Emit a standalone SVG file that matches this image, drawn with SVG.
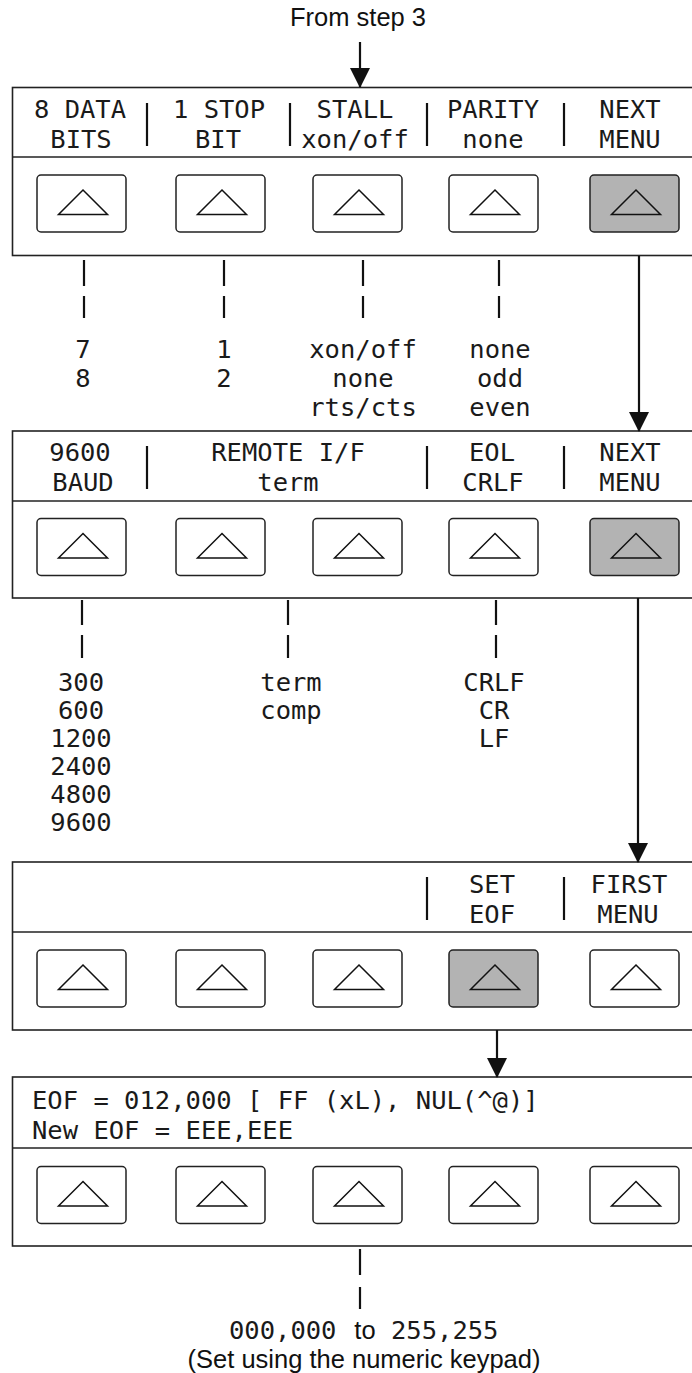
<svg xmlns="http://www.w3.org/2000/svg" width="692" height="1373" viewBox="0 0 692 1373">
<style>
.bg{fill:#ffffff}
.panel{fill:#ffffff;stroke:#222;stroke-width:1.6}
.sep{stroke:#222;stroke-width:1.6}
.btn{fill:#ffffff;stroke:#222;stroke-width:1.5}
.btn.on{fill:#b3b3b3}
.tri{fill:none;stroke:#111;stroke-width:1.5;stroke-linejoin:miter}
.lcd{font-family:"DejaVu Sans Mono","Liberation Mono",monospace;font-size:25.5px;fill:#1a1a1a;text-anchor:middle}
.lcdl{font-family:"DejaVu Sans Mono","Liberation Mono",monospace;font-size:25.5px;fill:#1a1a1a}
.sans{font-family:"Liberation Sans",Arial,sans-serif;font-size:25.5px;fill:#111;text-anchor:middle}
.bar{stroke:#111;stroke-width:2.2}
.tick{stroke:#111;stroke-width:2.2}
.conn{stroke:#111;stroke-width:2.2;fill:none}
</style>
<defs>
<marker id="ah" markerWidth="20" markerHeight="20" viewBox="0 0 20 20" refX="19" refY="10" orient="auto" markerUnits="userSpaceOnUse">
<path d="M0,0 L20,10 L0,20 Z" fill="#111"/>
</marker>
<g id="key">
<rect class="btn" x="0" y="0" width="89" height="57" rx="4"/>
<path class="tri" d="M46,15 L70.5,39.5 L21.5,39.5 Z"/>
</g>
<g id="keyon">
<rect class="btn on" x="0" y="0" width="89" height="57" rx="4"/>
<path class="tri" d="M46,15 L70.5,39.5 L21.5,39.5 Z"/>
</g>
</defs>
<rect class="bg" x="0" y="0" width="692" height="1373"/>

<text id="start-label" class="sans" x="358" y="26">From step 3</text>

<g id="panel1">
<rect class="panel" x="12.5" y="87.5" width="700" height="168"/>
<line class="sep" x1="12.5" y1="157" x2="712" y2="157"/>
<text class="lcd" x="80" y="118">8 DATA<tspan x="81" dy="29.5">BITS</tspan></text>
<text class="lcd" x="219" y="118">1 STOP<tspan x="218" dy="29.5">BIT</tspan></text>
<text class="lcd" x="355" y="118">STALL<tspan x="355" dy="29.5">xon/off</tspan></text>
<text class="lcd" x="493" y="118">PARITY<tspan x="493" dy="29.5">none</tspan></text>
<text class="lcd" x="630" y="118">NEXT<tspan x="630" dy="29.5">MENU</tspan></text>
<line class="bar" x1="147" y1="103" x2="147" y2="146"/>
<line class="bar" x1="290" y1="103" x2="290" y2="146"/>
<line class="bar" x1="427" y1="103" x2="427" y2="146"/>
<line class="bar" x1="564" y1="103" x2="564" y2="146"/>
<use href="#key" x="37" y="175"/>
<use href="#key" x="176" y="175"/>
<use href="#key" x="313" y="175"/>
<use href="#key" x="449" y="175"/>
<use href="#keyon" x="590" y="175"/>
</g>

<g id="options1">
<text class="lcd" x="83" y="358">7<tspan x="83" dy="29">8</tspan></text>
<text class="lcd" x="224" y="358">1<tspan x="224" dy="29">2</tspan></text>
<text class="lcd" x="363" y="358">xon/off<tspan x="363" dy="29">none</tspan><tspan x="363" dy="29">rts/cts</tspan></text>
<text class="lcd" x="500" y="358">none<tspan x="500" dy="29">odd</tspan><tspan x="500" dy="29">even</tspan></text>
</g>

<g id="panel2">
<rect class="panel" x="12.5" y="431" width="700" height="167"/>
<line class="sep" x1="12.5" y1="501" x2="712" y2="501"/>
<text class="lcd" x="80" y="461">9600<tspan x="83" dy="29.5">BAUD</tspan></text>
<text class="lcd" x="288" y="461">REMOTE I/F<tspan x="288" dy="29.5">term</tspan></text>
<text class="lcd" x="492" y="461">EOL<tspan x="493" dy="29.5">CRLF</tspan></text>
<text class="lcd" x="630" y="461">NEXT<tspan x="630" dy="29.5">MENU</tspan></text>
<line class="bar" x1="147" y1="446" x2="147" y2="489"/>
<line class="bar" x1="427" y1="446" x2="427" y2="489"/>
<line class="bar" x1="564" y1="446" x2="564" y2="489"/>
<use href="#key" x="37" y="518.5"/>
<use href="#key" x="176" y="518.5"/>
<use href="#key" x="313" y="518.5"/>
<use href="#key" x="449" y="518.5"/>
<use href="#keyon" x="590" y="518.5"/>
</g>

<g id="options2">
<text class="lcd" x="81" y="691">300<tspan x="81" dy="28">600</tspan><tspan x="81" dy="28">1200</tspan><tspan x="81" dy="28">2400</tspan><tspan x="81" dy="28">4800</tspan><tspan x="81" dy="28">9600</tspan></text>
<text class="lcd" x="291" y="691">term<tspan x="291" dy="28">comp</tspan></text>
<text class="lcd" x="494" y="691">CRLF<tspan x="494" dy="28">CR</tspan><tspan x="494" dy="28">LF</tspan></text>
</g>

<g id="panel3">
<rect class="panel" x="12.5" y="862" width="700" height="168"/>
<line class="sep" x1="12.5" y1="932" x2="712" y2="932"/>
<text class="lcd" x="492" y="893">SET<tspan x="492" dy="29.5">EOF</tspan></text>
<text class="lcd" x="629" y="893">FIRST<tspan x="628" dy="29.5">MENU</tspan></text>
<line class="bar" x1="427" y1="877" x2="427" y2="920"/>
<line class="bar" x1="564" y1="877" x2="564" y2="920"/>
<use href="#key" x="37" y="950"/>
<use href="#key" x="176" y="950"/>
<use href="#key" x="313" y="950"/>
<use href="#keyon" x="449" y="950"/>
<use href="#key" x="590" y="950"/>
</g>

<g id="panel4">
<rect class="panel" x="12.5" y="1077" width="700" height="169"/>
<line class="sep" x1="12.5" y1="1148" x2="712" y2="1148"/>
<text class="lcdl" x="32" y="1109">EOF = 012,000 [ FF (xL), NUL(^@)]<tspan x="32" dy="29.5">New EOF = EEE,EEE</tspan></text>
<use href="#key" x="37" y="1166.5"/>
<use href="#key" x="176" y="1166.5"/>
<use href="#key" x="313" y="1166.5"/>
<use href="#key" x="449" y="1166.5"/>
<use href="#key" x="590" y="1166.5"/>
</g>

<g id="range-label">
<text class="lcdl" x="229" y="1339">000,000</text>
<text class="sans" x="365" y="1339">to</text>
<text class="lcdl" x="391" y="1339">255,255</text>
<text class="sans" x="364" y="1368">(Set using the numeric keypad)</text>
</g>

<g id="connectors">
<line class="conn" x1="360" y1="42" x2="360" y2="87" marker-end="url(#ah)"/>
<line class="conn" x1="639" y1="256" x2="639" y2="431" marker-end="url(#ah)"/>
<line class="conn" x1="638" y1="598" x2="638" y2="862" marker-end="url(#ah)"/>
<line class="conn" x1="497" y1="1030" x2="497" y2="1077" marker-end="url(#ah)"/>
<line class="tick" x1="84" y1="260" x2="84" y2="286"/><line class="tick" x1="84" y1="296" x2="84" y2="318"/>
<line class="tick" x1="224" y1="260" x2="224" y2="286"/><line class="tick" x1="224" y1="296" x2="224" y2="318"/>
<line class="tick" x1="363" y1="260" x2="363" y2="286"/><line class="tick" x1="363" y1="296" x2="363" y2="318"/>
<line class="tick" x1="499" y1="260" x2="499" y2="286"/><line class="tick" x1="499" y1="296" x2="499" y2="318"/>
<line class="tick" x1="82" y1="600" x2="82" y2="625"/><line class="tick" x1="82" y1="635" x2="82" y2="658"/>
<line class="tick" x1="288" y1="600" x2="288" y2="625"/><line class="tick" x1="288" y1="635" x2="288" y2="658"/>
<line class="tick" x1="496" y1="600" x2="496" y2="625"/><line class="tick" x1="496" y1="635" x2="496" y2="658"/>
<line class="tick" x1="360" y1="1249" x2="360" y2="1275"/><line class="tick" x1="360" y1="1287" x2="360" y2="1309"/>
</g>
</svg>
